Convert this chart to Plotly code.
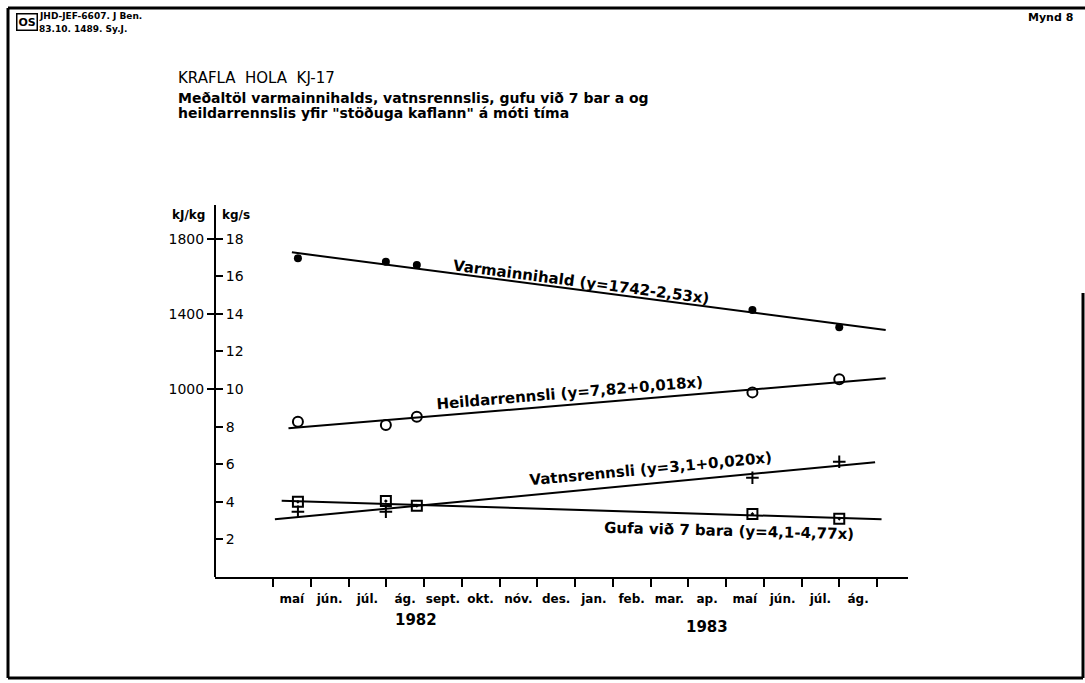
import plotly.graph_objects as go

# ---------------- data (x = months after 1 May 1982) ----------------
month_labels = ["maí", "jún.", "júl.", "ág.", "sept.", "okt.", "nóv.", "des.",
                "jan.", "feb.", "mar.", "ap.", "maí", "jún.", "júl.", "ág."]
month_edges = list(range(0, 17))
month_centers = [m + 0.5 for m in range(16)]
years = ["1982", "1983"]
year_pos = [3.79, 11.5]

sample_x = [0.66, 2.99, 3.81, 12.70, 15.0]
varm = [1695, 1677, 1660, 1420, 1328]          # kJ/kg
heild = [8.26, 8.09, 8.53, 9.82, 10.52]        # kg/s
gufa = [4.00, 4.04, 3.79, 3.35, 3.10]          # kg/s
vatn_x = [0.66, 2.99, 12.70, 15.0]
vatn = [3.47, 3.47, 5.28, 6.13]                # kg/s

varm_fit_x, varm_fit_y = [0.5, 16.23], [1727, 1314]
heild_fit_x, heild_fit_y = [0.41, 16.23], [7.91, 10.57]
vatn_fit_x, vatn_fit_y = [0.05, 15.95], [3.07, 6.10]
gufa_fit_x, gufa_fit_y = [0.23, 16.12], [4.06, 3.07]

kgs_ticks = [2, 4, 6, 8, 10, 12, 14, 16, 18]
kj_ticks = [1000, 1400, 1800]

W, H = 1085, 683
FONT = "DejaVu Sans"
px = lambda v: v / W
py = lambda v: 1 - v / H

x_range = [(215 - 273) / 37.75, (908 - 273) / 37.75]
y_top = (577 - 205) / 18.8

fig = go.Figure()
line = dict(color="black", width=2)
fig.add_trace(go.Scatter(x=varm_fit_x, y=varm_fit_y, mode="lines", line=line, yaxis="y2"))
fig.add_trace(go.Scatter(x=heild_fit_x, y=heild_fit_y, mode="lines", line=line))
fig.add_trace(go.Scatter(x=vatn_fit_x, y=vatn_fit_y, mode="lines", line=line))
fig.add_trace(go.Scatter(x=gufa_fit_x, y=gufa_fit_y, mode="lines", line=line))

fig.add_trace(go.Scatter(x=sample_x, y=varm, mode="markers", yaxis="y2",
                         marker=dict(symbol="circle", size=8, color="black")))
fig.add_trace(go.Scatter(x=sample_x, y=heild, mode="markers",
                         marker=dict(symbol="circle-open", size=10, color="black",
                                     line=dict(width=2, color="black"))))
fig.add_trace(go.Scatter(x=vatn_x, y=vatn, mode="markers",
                         marker=dict(symbol="cross-thin", size=9, color="black",
                                     line=dict(width=2, color="black"))))
fig.add_trace(go.Scatter(x=sample_x, y=gufa, mode="markers",
                         marker=dict(symbol="square-open-dot", size=10, color="black",
                                     line=dict(width=2, color="black"))))
# invisible trace to activate the month-label axis
fig.add_trace(go.Scatter(x=[month_centers[0]], y=[0], xaxis="x2", mode="markers",
                         marker=dict(opacity=0), hoverinfo="skip"))

dom_x = [px(215), px(908)]
dom_y = [py(577), py(205)]
fig.update_layout(
    width=W, height=H, autosize=False,
    margin=dict(l=0, r=0, t=0, b=0),
    paper_bgcolor="white", plot_bgcolor="white",
    showlegend=False,
    font=dict(family=FONT, color="black", size=13),
    xaxis=dict(domain=dom_x, range=x_range, tickvals=month_edges, ticks="outside",
               ticklen=8, tickwidth=2, tickcolor="black", showticklabels=False,
               showline=True, linewidth=2, linecolor="black", showgrid=False,
               zeroline=False, anchor="y"),
    xaxis2=dict(domain=dom_x, range=x_range, overlaying="x", side="bottom", anchor="y",
                tickvals=month_centers, ticktext=month_labels, ticks="outside",
                ticklen=11, tickcolor="rgba(0,0,0,0)", showline=False,
                showgrid=False, zeroline=False,
                tickfont=dict(family=FONT, size=12, color="black", weight="bold")),
    yaxis=dict(domain=dom_y, range=[0, y_top], tickvals=kgs_ticks, ticks="outside",
               side="right", anchor="free", position=px(215),
               ticklen=7, tickwidth=2, tickcolor="black",
               showline=True, linewidth=2, linecolor="black", showgrid=False,
               zeroline=False,
               tickfont=dict(family=FONT, size=14, color="black")),
    yaxis2=dict(domain=dom_y, range=[0, y_top * 100], overlaying="y", side="left",
                anchor="free", position=px(215), tickvals=kj_ticks, ticks="outside",
                ticklen=8, tickwidth=2, tickcolor="black", showline=False,
                showgrid=False, zeroline=False,
                tickfont=dict(family=FONT, size=14, color="black")),
)

ann = []
def text(x, y, s, size=13, xanchor="left", angle=0, weight="normal", **kw):
    ann.append(dict(x=px(x), y=py(y), xref="paper", yref="paper", text=s,
                    showarrow=False, xanchor=xanchor, yanchor="middle",
                    textangle=angle,
                    font=dict(family=FONT, size=size, color="black", weight=weight), **kw))

text(188, 215, "kJ/kg", 12, "center", weight="bold")
text(236, 215, "kg/s", 12, "center", weight="bold")
text(176, 78, "KRAFLA  HOLA  KJ-17", 15)
text(176, 98, "Meðaltöl varmainnihalds, vatnsrennslis, gufu við 7 bar a og", 14, weight="bold")
text(176, 113, "heildarrennslis yfir \"stöðuga kaflann\" á móti tíma", 14, weight="bold")
text(37, 16, "JHD-JEF-6607. J Ben.", 9, weight="bold")
text(37, 29, "83.10. 1489. Sy.J.", 9, weight="bold")
text(1050, 17, "Mynd 8", 11, "center", weight="bold")
text(27, 22, "<b>OS</b>", 11, "center", bordercolor="black", borderwidth=1.5, borderpad=1)

text(581, 282, "Varmainnihald (y=1742-2,53x)", 15, "center", 7.4, weight="bold")
text(570, 393, "Heildarrennsli (y=7,82+0,018x)", 15, "center", -4.8, weight="bold")
text(650, 469, "Vatnsrennsli (y=3,1+0,020x)", 15, "center", -5.4, weight="bold")
text(729, 531, "Gufa við 7 bara (y=4,1-4,77x)", 15, "center", 1.5, weight="bold")

year_y = [620, 627]
for i, yr in enumerate(years):
    ann.append(dict(x=year_pos[i], y=py(year_y[i]), xref="x", yref="paper", text=yr,
                    showarrow=False, xanchor="center", yanchor="middle",
                    font=dict(family=FONT, size=15, color="black", weight="bold")))
fig.update_layout(annotations=ann)

frame = dict(color="black", width=3)
shapes = [
    dict(type="line", xref="paper", yref="paper", x0=px(8), y0=py(8), x1=1, y1=py(8), line=frame),
    dict(type="line", xref="paper", yref="paper", x0=px(8), y0=py(8), x1=px(8), y1=py(678), line=frame),
    dict(type="line", xref="paper", yref="paper", x0=px(8), y0=py(678), x1=px(1083), y1=py(678), line=frame),
    dict(type="line", xref="paper", yref="paper", x0=px(1083), y0=py(293), x1=px(1083), y1=py(678), line=frame),
]
fig.update_layout(shapes=shapes)

fig.write_html("out.html", config={"displayModeBar": False},
               post_script="document.body.style.margin='0';")
